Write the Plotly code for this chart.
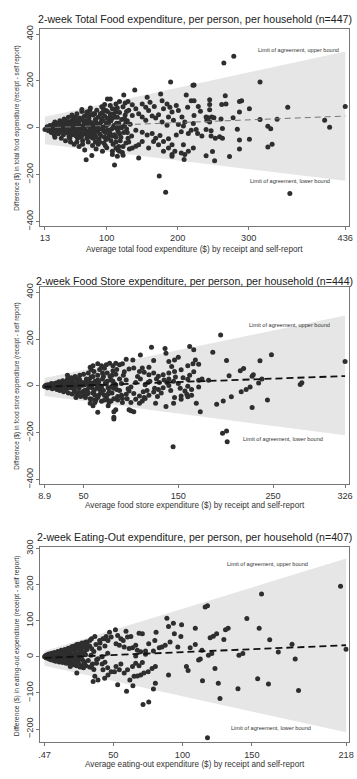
import plotly.graph_objects as go

W, H = 357, 779
FONT = "Liberation Sans, Arial, sans-serif"

# ---------------- Panel 1: Total food ----------------
total_title = "2-week Total Food expenditure, per person, per household (n=447)"
total_xtitle = "Average total food expenditure ($) by receipt and self-report"
total_ytitle = "Difference ($) in total food expenditure (receipt - self report)"
total_xticks = [13, 100, 200, 300, 436]
total_xticktext = ["13", "100", "200", "300", "436"]
total_yticks = [-400, -200, 0, 200, 400]
total_loa_x = [13, 436]
total_loa_upper = [47, 326]
total_loa_lower = [-70, -226]
total_mean = [0, 50]
total_dense = [
    (13, -7), (16, 5), (18, -12), (20, 10), (22, -20), (24, 0), (25, 15), (26, -30), (28, 8), (29, -15), (30, 20), (30, -5), (27, -40), (27, 25),
    (32, -25), (33, 12), (34, 30), (35, -8), (36, -45), (37, 22), (38, 5), (39, -30), (40, 38), (41, -15), (42, -55), (43, 18), (44, 0), (45, -22), (46, 45), (47, -38), (48, 10), (49, -60), (50, 28), (50, -8),
    (51, 55), (52, -30), (53, 15), (54, -70), (55, 35), (56, -12), (57, 0), (58, 60), (59, -45), (60, 20), (61, -80), (62, 42), (63, -20), (64, 8), (65, 70), (66, -55), (67, 30), (68, -5), (69, -95), (70, 50), (56, 25), (60, -30), (64, -40), (68, 15),
    (71, -25), (72, 65), (73, 10), (74, -60), (75, 40), (76, -10), (77, 85), (78, -40), (79, 22), (80, -75), (81, 55), (82, 0), (83, -30), (84, 35), (85, -90), (86, 75), (87, -15), (88, 45), (89, -50), (90, 15), (72, -45), (76, 25), (80, 5), (84, -8), (88, -70),
    (91, 60), (92, -35), (93, 90), (94, -5), (95, 30), (96, -65), (97, 50), (98, -20), (99, 10), (100, -85), (101, 70), (102, -45), (103, 25), (104, -10), (105, 95), (106, -55), (107, 40), (108, -100), (109, 0), (110, 60), (94, -100), (98, -75), (102, 15), (106, 30),
    (111, -30), (112, 80), (113, -60), (114, 20), (115, 45), (116, -15), (117, -80), (118, 65), (119, 5), (120, -40), (121, 35), (122, -105), (123, 90), (124, -20), (125, 10), (126, 55), (127, -65), (128, -5), (129, 30), (130, -45), (131, 75), (132, -90),
    (36, 10), (40, -5), (45, 12), (48, -18), (52, 2), (55, -20), (58, 18), (62, -8), (66, 5), (70, -20), (74, 20), (78, 8), (82, -15), (86, 12), (90, -25), (95, 3), (100, 20), (105, -25), (110, 10), (115, -5),
    (38, -10), (43, 25), (47, -28), (53, 40), (57, -35), (61, 30), (65, -25), (69, 28), (73, -32), (77, -2), (81, -45), (85, 25), (89, -5), (93, 40), (97, -40), (101, -8), (104, 45), (108, -35), (113, 5), (118, -25),
    (20, -3), (23, 8), (26, -10), (29, 3), (32, 14), (34, -16), (37, -2), (39, 18), (42, -8), (44, 28), (46, -15), (49, 20), (51, -5), (54, 12), (56, 45), (59, 5), (61, -15), (63, 35), (66, -30), (68, 48),
    (70, -8), (72, 30), (74, -18), (76, 55), (79, -25), (81, 18), (83, 60), (85, -40), (87, 5), (90, -60), (92, 25), (94, 65), (96, -15), (99, -50), (101, 40), (103, -30), (105, 60), (107, -5), (109, -70), (111, 45),
    (113, -40), (115, 85), (117, 20), (119, -55), (121, 0), (123, -80), (125, 40), (127, 25), (129, -20), (131, -60), (133, 15), (135, -35), (128, 70), (116, -95), (97, 100), (84, -60), (66, -70), (58, -60), (48, -45), (41, 30),
]
total_scatter = [
    (190, 196), (139.5, 161), (221.5, 182), (101, 123), (105, 123), (124, 140), (65, 78), (176, 144), (157, 130), (212, 140), (219, 116),
    (113, 102), (118, 112), (126, 106), (130, 112), (136, 98), (72, 67), (76, 74), (81, 60), (95, 84), (99, 74), (108, 81), (113, 67),
    (150, 102), (155, 88), (159, 74), (161, 109), (167, 91), (178, 116), (180, 81), (185, 102), (189, 88), (192, 67), (198, 95), (201, 74), (214, 88), (206, 46), (210, 25), (222, 18),
    (141, 81), (136, 53), (145, 60), (150, 46), (155, 32), (164, 50), (169, 42), (173, 56), (178, 25), (185, 11), (187, 46), (194, 32), (201, 14), (208, 8),
    (141, -10), (150, -19), (157, -31), (164, -24), (169, -45), (175, -33), (180, -58), (187, -47), (192, -72), (198, -31), (205, -17), (215, -24), (219, -10),
    (136, -86), (141, -79), (145, -72), (150, -58), (159, -86), (166, -58), (173, -72), (180, -100), (187, -86), (192, -114), (196, -100), (208, -72), (210, -114), (215, -100), (222, -86),
    (145, -129), (123, -117), (113, -86), (118, -100), (108, -114), (115, -121), (111, -159), (71, -136), (79, -118), (192, -121), (205, -107), (209, -135), (174, -205), (183, -275),
    (265, 277), (279, 305), (316, 196), (223, 183), (267, 137), (262, 99), (268, 102), (287, 112), (290, 116), (245, 120), (245, 99), (245, 77), (229, 91), (232, 71), (223, 116), (223, 53),
    (240, 46), (243, 43), (248, 46), (251, 43), (261, 38), (278, 43), (287, 67), (301, 81), (355, 88), (436, 91), (245, 25), (241, 32),
    (226, -7), (228, -24), (234, -35), (240, -7), (247, -12), (247, -35), (253, -45), (259, -38), (263, -45), (263, -3), (284, -6), (287, -52), (301, -49), (287, -90),
    (240, -119), (249, -101), (252, -140), (273, -122), (327, 7), (331, -4), (327, -82), (333, -70), (316, 35), (340, 37), (407, 32), (414, 2), (358, -280),
]

# ---------------- Panel 2: Food store ----------------
store_title = "2-week Food Store expenditure, per person, per household (n=444)"
store_xtitle = "Average food store expenditure ($) by receipt and self-report"
store_ytitle = "Difference ($) in food store expenditure (receipt - self report)"
store_xticks = [8.9, 50, 150, 250, 326]
store_xticktext = ["8.9", "50", "150", "250", "326"]
store_yticks = [-400, -200, 0, 200, 400]
store_loa_x = [8.9, 326]
store_loa_upper = [34, 301]
store_loa_lower = [-43, -211]
store_mean = [-4, 42]
store_dense = [
    (8.9, -3), (10, 2), (12, -8), (13, 5), (15, -2), (16, 10), (17, -12), (18, 3), (20, -6), (21, 12), (22, -15), (23, 0), (24, 18), (25, -20), (26, 8), (27, -5), (28, 22), (29, -25), (30, 2),
    (31, 15), (32, -12), (33, 28), (34, -30), (35, 5), (36, -8), (37, 35), (38, -35), (39, 12), (40, -18), (41, 40), (42, 0), (43, -40), (44, 25), (45, -10), (46, 45), (47, -45), (48, 15), (49, -25), (50, 50),
    (51, 5), (52, -50), (53, 30), (54, -15), (55, 55), (56, -5), (57, -55), (58, 38), (59, 10), (60, -30), (61, 62), (62, 20), (63, -60), (64, -10), (65, 45), (66, -40), (67, 70), (68, 0), (69, -65), (70, 30),
    (71, -20), (72, 75), (73, 12), (74, -45), (75, 55), (76, -8), (77, -70), (78, 40), (79, 25), (80, -30), (81, 65), (82, -55), (83, 8), (84, 50), (85, -15),
    (14, -4), (19, 4), (24, -3), (29, 6), (34, -2), (39, 5), (44, -5), (49, 3), (54, 8), (59, -8), (64, 6), (69, -3), (74, 8), (79, -6), (84, 4),
    (31, -18), (36, 20), (41, -25), (46, 25), (51, -20), (56, 28), (61, -22), (66, 18), (71, 40), (76, -35), (81, 20), (55, -30), (45, 32), (65, -50), (75, -58),
    (11, 4), (13, -6), (16, -3), (19, 9), (21, -10), (23, 6), (26, -12), (28, -2), (30, 14), (33, -6), (35, 20), (38, 0), (40, 28), (43, 10), (45, -28), (47, 3), (50, -40), (52, 18), (54, -35), (57, 12),
    (60, 40), (62, -40), (65, 25), (67, -15), (70, 55), (72, -40), (75, 20), (77, -25), (80, 45), (82, -10), (85, 70), (86, -45), (88, -20), (90, -40), (93, 60), (96, -55), (33, 45), (42, -50), (58, 70), (68, -30),
]
store_scatter = [
    (121.7, 165), (136, 160), (137, 139), (162, 168), (95, 114), (102, 111), (110, 132), (88, 90), (91, 95), (124, 108), (119, 80), (112, 76), (140, 104), (143, 83), (146, 111), (150, 122),
    (57, 80), (60, 86), (65, 95), (69, 86), (74, 90), (77.5, 97), (81, 86), (84, 97),
    (98, 72), (103, 76), (109, 62), (114, 58), (119, 48), (124, 55), (129, 41), (134, 48), (140, 55), (146, 62), (153, 69), (160, 86), (165.5, 95),
    (98, -22), (103, -32), (109, -43), (114, -50), (119, -40), (124, -26), (129, -15), (134, -8), (140, 2),
    (157, -22), (160, -1), (164, -15), (146, -50), (153, -43), (159, -36), (164, -40),
    (105, -57), (109, -74), (112, -64), (115, -54), (95, -36), (100, -71), (91, -54),
    (126, -74), (137, -88), (145, -74), (153, -57), (160, -46),
    (100, -106), (103, -110), (98, -102), (65, -113), (82, -134), (82, -110), (84, -102), (82, -141),
    (53, -32), (58.5, -57), (62, -71), (57, -74), (60, -85), (72, -60), (76, -85), (79, -64), (86, -60), (91, -71), (144.5, -260),
    (90, 10), (95, 25), (100, -5), (105, 15), (110, 30), (115, 5), (120, 20), (125, -10), (130, 15), (135, 25), (140, 30), (145, 20), (150, 10), (155, 35), (160, 28),
    (92, 45), (97, -12), (107, 40), (117, -20), (127, 30), (132, -30), (142, -20), (147, 38), (152, -10), (162, 45), (88, 30), (113, -25), (118, 15), (128, -45), (138, 15),
    (194.7, 217), (166.3, 154), (186.4, 144), (168, 111), (171.5, 93), (200.9, 109), (166.3, 60), (215.4, 65), (218.9, 74), (248.3, 133), (236.2, 107), (326, 104),
    (203.6, 43), (229.2, 48), (227.9, 41), (238.2, 30), (171.5, 24), (175, 30), (181.9, 24), (171.5, -5), (234.8, 12), (278.7, 6), (280.4, 13),
    (216.4, -25), (221.6, -15), (225.8, -5), (206, -46), (197.4, -64), (190.5, -78), (169, -74), (173.2, -110), (227.9, -92), (244.1, -60),
    (196.7, -202), (200.9, -193), (201.6, -238),
]

# ---------------- Panel 3: Eating out ----------------
eat_title = "2-week Eating-Out expenditure, per person, per household (n=407)"
eat_xtitle = "Average eating-out expenditure ($) by receipt and self-report"
eat_ytitle = "Difference ($) in eating-out expenditure (receipt - self report)"
eat_xticks = [0.47, 50, 100, 150, 218]
eat_xticktext = [".47", "50", "100", "150", "218"]
eat_yticks = [-200, -100, 0, 100, 200, 300]
eat_loa_x = [0.47, 218]
eat_loa_upper = [16, 272]
eat_loa_lower = [-25, -209]
eat_mean = [-3, 32]
eat_dense = [
    (0.47, 0), (1, 3), (1.5, -2), (2, 5), (2.5, -4), (3, 1), (3.5, 8), (4, -6), (4.5, 2), (5, -8), (5.5, 10), (6, -3), (6.5, 6), (7, -10), (7.5, 12), (8, 0), (8.5, -12), (9, 8), (9.5, -5), (10, 15),
    (10.5, 3), (11, -14), (11.5, 10), (12, -7), (12.5, 18), (13, 2), (13.5, -16), (14, 12), (14.5, -4), (15, 20), (15.5, 6), (16, -18), (16.5, 14), (17, -8), (17.5, 24), (18, 2), (18.5, -20), (19, 16), (19.5, -10), (20, 28),
    (20.5, 5), (21, -22), (21.5, 20), (22, -5), (22.5, 30), (23, 10), (23.5, -25), (24, 22), (24.5, -12), (25, 35), (25.5, 0), (26, -28), (26.5, 18), (27, -6), (27.5, 38), (28, 12), (28.5, -30), (29, 26), (29.5, -15), (30, 40),
    (3, -1), (6, 2), (9, -2), (12, 4), (15, -3), (18, 6), (21, -4), (24, 5), (27, -3), (30, 6), (5, 4), (8, -5), (11, 6), (14, -8), (17, 10), (20, -12), (23, -15), (26, 14), (29, -18),
    (31, 20), (32, -10), (33, 30), (34, 4), (35, -20), (36, 15), (38, -8), (40, 24), (42, 0), (44, -15), (46, 10),
    (1.2, -1), (2.2, 2), (3.2, -3), (4.2, 4), (5.2, -1), (6.2, 7), (7.2, -6), (8.2, 4), (9.2, 10), (10.2, -8), (11.2, -2), (12.2, 12), (13.2, -10), (14.2, 6), (15.2, -12), (16.2, 3), (17.2, 16), (18.2, -14), (19.2, 0), (20.2, 20),
    (21.2, -8), (22.2, 14), (23.2, -2), (24.2, 26), (25.2, -20), (26.2, 6), (27.2, 28), (28.2, -10), (29.2, 12), (30.2, -25), (31.5, 32), (33, -28), (34.5, 22), (36, -35), (37.5, 34), (39, -5), (40.5, 38), (42, -20), (44, 30), (46, -30),
]
eat_scatter = [
    (88.7, 107), (93.4, 93), (99.3, 89), (89.9, 84), (94.1, 64), (98.8, 56), (80.9, 68), (80, 45), (75.6, 36), (91, 41), (87.5, 32), (85.1, 27), (83.2, 25), (96.6, 27), (105.5, 25), (68.6, 65), (71, 64), (51.6, 75),
    (59.2, 71), (53.2, 59), (55.5, 50), (57.2, 45), (60.3, 55), (62.7, 56), (47.3, 68), (44.9, 56), (43.8, 50), (48.5, 55), (46.2, 45), (34.3, 50), (36.7, 56), (40.2, 45), (42.6, 50), (33.1, 45), (30.7, 41), (28.4, 36), (26, 32), (23.7, 34), (21.3, 29),
    (52, 36), (54.4, 32), (57.9, 27), (61.5, 23), (63.9, 25), (66.2, 32), (67.4, 18), (69.8, 14), (73.3, 16), (79, 16), (73.3, 7), (66.2, 2),
    (19, -27), (23.7, -45), (28.4, -23), (34.3, -29), (37.9, -18), (42.6, -36), (36.7, -54), (39, -64), (35.5, -68), (43.8, -59), (46.2, -50), (48.5, -41),
    (52, -27), (54.4, -36), (55.5, -20), (57.9, -45), (60.3, -36), (63.9, -27), (66.2, -18), (68.6, -25), (71, -16),
    (62, -64), (65, -54), (67.4, -53), (69.8, -50), (72.1, -45), (75.2, -41), (78, -32), (80.4, -27),
    (53.2, -77), (59.6, -95), (64.2, -80), (71.5, -132), (75.6, -125), (79, -89), (80.4, -73), (89.9, -50), (102.8, -27), (104, -38), (50.9, -41),
    (214, 195), (157, 174), (116.3, 138), (118, 141), (146.4, 106), (155.3, 79), (131, 75), (132.9, 79), (109.2, 79), (119.9, 53), (122.2, 57), (124.6, 64), (129.8, 48), (162.9, 47), (179, 34.5),
    (109.2, 34), (114, 18), (118.7, 4.5), (121.1, 9), (140.7, 4.5), (143.5, 9), (169.1, 13.6), (218, 21), (111.6, -9), (112.8, -6), (181.3, -6),
    (123.4, -32), (114.4, -66), (125.8, -73), (127, -115), (140, -88), (154.2, -61), (162, -75), (183.7, -93), (118, -224),
]

panels = [
    dict(title=total_title, xtitle=total_xtitle, ytitle=total_ytitle, xticks=total_xticks, xtt=total_xticktext,
         yticks=total_yticks, loa_x=total_loa_x, up=total_loa_upper, lo=total_loa_lower, mean=total_mean,
         pts=total_dense + total_scatter, xr=[6.5, 440.7], yr=[-417, 423],
         dom=(22, 222), title_y=12, xt_y=246, yt_size=6.3,
         up_lab=(310, 334), lo_lab=(299, -228), mcol="#777777", mw=1.0, mdash="6px,4px"),
    dict(title=store_title, xtitle=store_xtitle, ytitle=store_ytitle, xticks=store_xticks, xtt=store_xticktext,
         yticks=store_yticks, loa_x=store_loa_x, up=store_loa_upper, lo=store_loa_lower, mean=store_mean,
         pts=store_dense + store_scatter, xr=[4.4, 329.7], yr=[-417, 424],
         dom=(284, 484), title_y=278, xt_y=506, yt_size=6.3,
         up_lab=(223, 258), lo_lab=(216, -226), mcol="#111111", mw=1.8, mdash="7px,4px"),
    dict(title=eat_title, xtitle=eat_xtitle, ytitle=eat_ytitle, xticks=eat_xticks, xtt=eat_xticktext,
         yticks=eat_yticks, loa_x=eat_loa_x, up=eat_loa_upper, lo=eat_loa_lower, mean=eat_mean,
         pts=eat_dense + eat_scatter, xr=[-2.6, 219.8], yr=[-237, 305],
         dom=(548, 747), title_y=538, xt_y=769, yt_size=6.8,
         up_lab=(130.5, 256), lo_lab=(133.4, -198), mcol="#111111", mw=1.8, mdash="7px,4px"),
]

fig = go.Figure()
annotations = []
L, R = 39, 352.5
layout_axes = {}
for i, p in enumerate(panels):
    n = "" if i == 0 else str(i + 1)
    xa, ya = "x" + n, "y" + n
    bx = [p["loa_x"][0], p["loa_x"][1], p["loa_x"][1], p["loa_x"][0], p["loa_x"][0]]
    by = [p["up"][0], p["up"][1], p["lo"][1], p["lo"][0], p["up"][0]]
    fig.add_trace(go.Scatter(x=bx, y=by, fill="toself", fillcolor="#e6e6e6", line=dict(width=0),
                             mode="lines", hoverinfo="skip", showlegend=False, xaxis=xa, yaxis=ya))
    xs = [q[0] for q in p["pts"]]
    ys = [q[1] for q in p["pts"]]
    fig.add_trace(go.Scatter(x=xs, y=ys, mode="markers", marker=dict(size=5, color="#2e2e2e"),
                             showlegend=False, xaxis=xa, yaxis=ya))
    fig.add_trace(go.Scatter(x=p["loa_x"], y=p["mean"], mode="lines",
                             line=dict(color=p["mcol"], width=p["mw"], dash=p["mdash"]),
                             showlegend=False, xaxis=xa, yaxis=ya))
    top, bot = p["dom"]
    axcommon = dict(showline=True, mirror=True, linecolor="#777777", linewidth=1, ticks="outside",
                    ticklen=3, tickcolor="#777777", showgrid=False, zeroline=False,
                    tickfont=dict(family=FONT, size=9.2, color="#333333"))
    layout_axes["xaxis" + n] = dict(axcommon, domain=[L / W, R / W], range=p["xr"], tickvals=p["xticks"],
                                    ticktext=p["xtt"], anchor=ya)
    layout_axes["yaxis" + n] = dict(axcommon, domain=[1 - bot / H, 1 - top / H], range=p["yr"],
                                    tickvals=p["yticks"], tickangle=-90, anchor=xa)
    annotations.append(dict(text=p["title"], x=196 / W, y=1 - p["title_y"] / H, xref="paper", yref="paper",
                            showarrow=False, xanchor="center", yanchor="middle",
                            font=dict(family=FONT, size=10.6, color="#222222")))
    annotations.append(dict(text=p["xtitle"], x=196 / W, y=1 - p["xt_y"] / H, xref="paper", yref="paper",
                            showarrow=False, xanchor="center", yanchor="middle",
                            font=dict(family=FONT, size=8.2, color="#333333")))
    annotations.append(dict(text=p["ytitle"], x=15 / W, y=1 - ((top + bot) / 2 + 1) / H, xref="paper", yref="paper",
                            showarrow=False, xanchor="center", yanchor="middle", textangle=-90,
                            font=dict(family=FONT, size=p["yt_size"], color="#333333")))
    annotations.append(dict(text="Limit of agreement, upper bound", x=p["up_lab"][0], y=p["up_lab"][1],
                            xref=xa, yref=ya, showarrow=False, xanchor="left", yanchor="middle",
                            font=dict(family=FONT, size=5.6, color="#333333")))
    annotations.append(dict(text="Limit of agreement, lower bound", x=p["lo_lab"][0], y=p["lo_lab"][1],
                            xref=xa, yref=ya, showarrow=False, xanchor="left", yanchor="middle",
                            font=dict(family=FONT, size=5.6, color="#333333")))

fig.update_layout(width=W, height=H, margin=dict(l=0, r=0, t=0, b=0), paper_bgcolor="white",
                  plot_bgcolor="white", annotations=annotations, **layout_axes)
fig.write_html("out.html", config={"displayModeBar": False},
               post_script="document.body.style.margin='0';document.body.style.overflow='hidden';")
